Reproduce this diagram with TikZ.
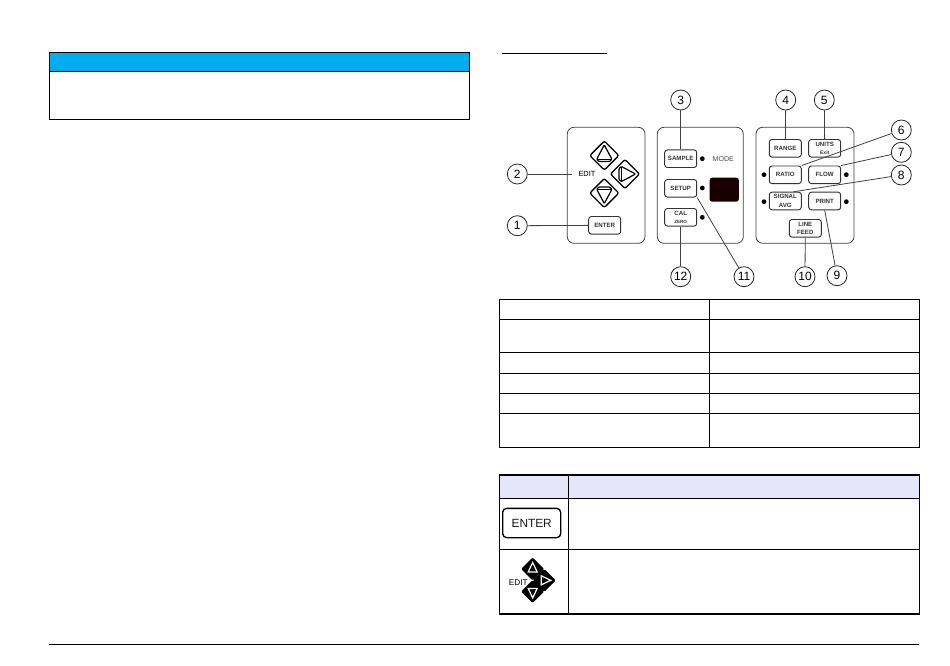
\documentclass[tikz,border=0pt]{standalone}
\usepackage{fontspec}
\setmainfont{Liberation Sans}
\definecolor{noticeblue}{HTML}{00AEEF}
\definecolor{headlav}{HTML}{E6E6FA}
\tikzset{
	callout/.style={draw=black!85,line width=0.6pt,circle,fill=white,minimum size=15pt,inner sep=0pt,font=\fontsize{9}{10}\selectfont},
	keybtn/.style={draw=black!80,line width=0.7pt,rounded corners=2pt,minimum width=24pt,minimum height=13.2pt,inner sep=0pt,align=center,text=black!80,font=\fontsize{4.6}{6.2}\selectfont\bfseries},
	panel/.style={draw=black!75,line width=0.6pt,rounded corners=5pt},
	tableline/.style={line width=0.8pt,black},
	leader/.style={line width=0.6pt,black!75}
}
\begin{document}
\begin{tikzpicture}[x=0.75pt,y=-0.75pt]
	\useasboundingbox (0,0) rectangle (950,665);
	% Notice
	\fill [noticeblue] (49.5,52.7) rectangle (469.5,71.7);
	\draw [tableline] (49.5,52.7) rectangle (469.5,119.7);
	\draw [tableline] (49.5,71.7) -- (469.5,71.7);
	\draw [tableline] (502.3,53.3) -- (606.7,53.3);
	\draw [tableline] (49.3,644.3) -- (919.3,644.3);
	% Panels
	\draw [panel] (567.3,127.3) rectangle (645,243.3);
	\draw [panel] (657.3,127.3) rectangle (743.3,243.3);
	\draw [panel] (756,127.3) rectangle (854,243.3);
	% Arrow keys
	\foreach \kx/\ky/\krot in {604.3/155.5/0,625/174/-90,604.3/193/180}{
		\begin{scope}[shift={(\kx,\ky)},rotate=\krot]
			\draw [line width=1pt,rounded corners=1.5pt] (0,-14.5) -- (14.5,0) -- (0,14.5) -- (-14.5,0) -- cycle;
			\draw [line width=0.9pt,rounded corners=0.6pt] (0,-10.5) -- (-7.5,3.5) -- (-5.5,6) -- (5.5,6) -- (7.5,3.5) -- cycle;
			\draw [line width=0.5pt] (-7.5,3.5) -- (7.5,3.5);
		\end{scope}
	}
	% Buttons
	\node [keybtn] (enter) at (604.7,225.3) {ENTER};
	\node [keybtn] (sample) at (680.7,158.7) {SAMPLE};
	\node [keybtn] (setup) at (680.7,188.3) {SETUP};
	\node [keybtn] (cal) at (680.7,217.3) {CAL\\[-0.8pt]{\fontsize{3.4}{4}\selectfont ZERO}};
	\node [keybtn] (range) at (785.3,148.3) {RANGE};
	\node [keybtn] (units) at (824.7,148.3) {UNITS\\[-0.6pt]{\fontsize{3.8}{4}\selectfont Exit}};
	\node [keybtn] (ratio) at (785.3,174.8) {RATIO};
	\node [keybtn] (flow) at (824.7,174.8) {FLOW};
	\node [keybtn] (signal) at (785.3,201) {SIGNAL\\AVG};
	\node [keybtn] (print) at (824.7,201) {PRINT};
	\node [keybtn] (linefeed) at (805.3,228.3) {LINE\\FEED};
	\node [fill=black!90!red,rounded corners=2pt,minimum width=22pt,minimum height=18pt,inner sep=0pt] (display) at (724.2,189.7) {};
	% Labels
	\node [inner xsep=4.5pt,inner ysep=0pt,font=\fontsize{5.6}{6}\selectfont] (edit) at (587,174) {EDIT};
	\node [inner sep=0pt,font=\fontsize{5.3}{6}\selectfont,text=black!70] (mode) at (723.3,158.7) {MODE};
	% LEDs
	\foreach \lx/\ly in {702.3/158.7,702.3/188,702.3/217.3,764/174.7,764/201.7,846.3/174.7,846.3/201.7}{
		\fill (\lx,\ly) circle [radius=2.4];
	}
	% Callouts
	\node [callout] (c1) at (517.3,225.7) {1};
	\node [callout] (c2) at (517.3,174) {2};
	\node [callout] (c3) at (680.7,100) {3};
	\node [callout] (c4) at (785.7,100) {4};
	\node [callout] (c5) at (824.3,100) {5};
	\node [callout] (c6) at (901.3,130) {6};
	\node [callout] (c7) at (901.3,152.3) {7};
	\node [callout] (c8) at (901.3,175) {8};
	\node [callout] (c9) at (837,275.7) {9};
	\node [callout] (c10) at (805,276.7) {10};
	\node [callout] (c11) at (744,276.7) {11};
	\node [callout] (c12) at (680.7,276.7) {12};
	\draw [leader] (c1) -- (enter);
	\draw [leader] (c2) -- (edit);
	\draw [leader] (c3) -- (sample);
	\draw [leader] (c4) -- (range);
	\draw [leader] (c5) -- (units);
	\draw [leader] (c6) -- (ratio.north east);
	\draw [leader] (c7) -- (flow.north east);
	\draw [leader] (c8) -- (signal.48);
	\draw [leader] (c9) -- (print.south);
	\draw [leader] (c10) -- (linefeed);
	\draw [leader] (c11) -- (setup.south east);
	\draw [leader] (c12) -- (cal);
	% Table 1
	\draw [tableline] (499.3,299.3) rectangle (919.3,447.3);
	\draw [tableline] (709.3,299.3) -- (709.3,447.3);
	\foreach \ty in {319.3,352.3,373.3,393.3,413.3}{
		\draw [tableline] (499.3,\ty) -- (919.3,\ty);
	}
	% Table 2
	\fill [headlav] (499.3,475) rectangle (919.3,498.3);
	\draw [tableline] (499.3,475) rectangle (919.3,614);
	\draw [tableline] (568.7,475) -- (568.7,614);
	\foreach \ty in {498.3,549.3}{
		\draw [tableline] (499.3,\ty) -- (919.3,\ty);
	}
	\node [draw,line width=1pt,rounded corners=3pt,minimum width=43.5pt,minimum height=22pt,inner sep=0pt,font=\fontsize{8.9}{10}\selectfont,text=black!90] (enterkey) at (531.7,523) {ENTER};
	\foreach \kx/\ky/\krot in {532.7/569/0,544.3/580.3/-90,532.7/591.5/180}{
		\begin{scope}[shift={(\kx,\ky)},rotate=\krot]
			\fill [rounded corners=1pt] (0,-11.5) -- (11.5,0) -- (0,11.5) -- (-11.5,0) -- cycle;
			\draw [white,line width=0.9pt] (0,-6.5) -- (-4.5,3) -- (4.5,3) -- cycle;
		\end{scope}
	}
	\node [inner sep=0pt,font=\fontsize{6.2}{7}\selectfont] (editkey) at (518.3,582.3) {EDIT};
\end{tikzpicture}
\end{document}
